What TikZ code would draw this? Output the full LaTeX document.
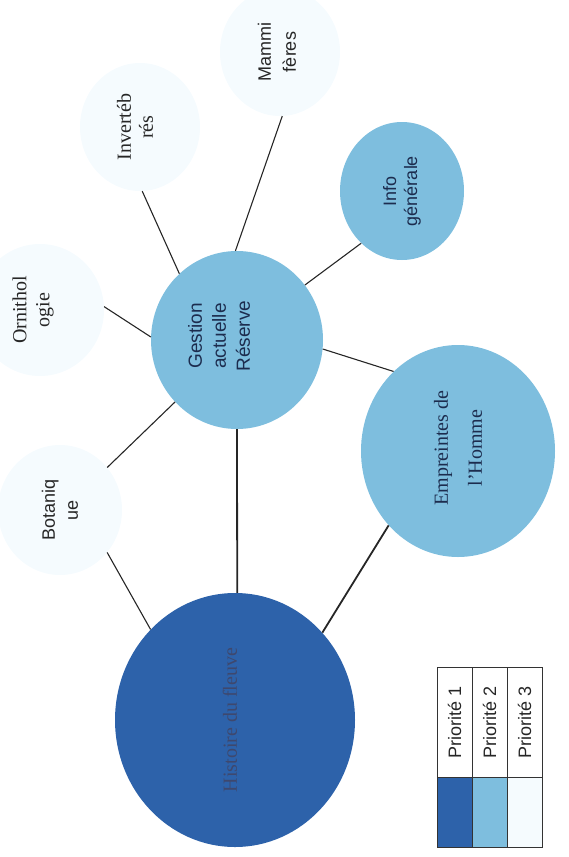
\documentclass[tikz,border=0pt]{standalone}
\usepackage{fontspec}
\setmainfont{Liberation Serif}
\setsansfont{Liberation Sans}
\usetikzlibrary{shapes.geometric}
\definecolor{prioA}{RGB}{45,98,170}
\definecolor{prioB}{RGB}{126,190,222}
\definecolor{prioC}{RGB}{245,251,254}
\definecolor{inkblue}{RGB}{28,44,78}
\definecolor{histink}{RGB}{62,72,110}
\tikzset{
  p1node/.style={ellipse, inner sep=0pt, fill=prioA},
  p2node/.style={ellipse, inner sep=0pt, fill=prioB},
  p3node/.style={ellipse, inner sep=0pt, fill=prioC},
  lien/.style={line width=1.1pt, black!85},
  lienfort/.style={line width=1.8pt, black!85},
  txt/.style={rotate=90, align=center, inner sep=0pt},
  serifbig/.style={font=\rmfamily\fontsize{20}{23}\selectfont},
  sansbig/.style={font=\sffamily\fontsize{18}{23}\selectfont},
  legcell/.style={draw=black!80, line width=0.8pt, inner sep=0pt}
}
\begin{document}
\begin{tikzpicture}[x=1pt,y=-1pt]
\useasboundingbox (0,0) rectangle (568,857);
% cercles
\node[p1node, minimum width=240pt, minimum height=254pt] (hist) at (235,720) {};
\node[p2node, minimum width=172pt, minimum height=178pt] (gest) at (237,340) {};
\node[p2node, minimum width=124pt, minimum height=138pt] (info) at (402,191) {};
\node[p2node, minimum width=194pt, minimum height=212pt] (empr) at (458,451) {};
\node[p3node, minimum width=124pt, minimum height=130pt] (bota) at (60,510) {};
\node[p3node, minimum width=128pt, minimum height=132pt] (orni) at (40,310) {};
\node[p3node, minimum width=120pt, minimum height=128pt] (inve) at (140,127) {};
\node[p3node, minimum width=120pt, minimum height=128pt] (mamm) at (280,52) {};
% liens
\draw[lienfort] (hist.89) -- (gest.270);
\draw[lienfort] (hist.45) -- (empr.227);
\draw[lien] (hist.133) -- (bota.318);
\draw[lien] (gest.225) -- (bota.42);
\draw[lien] (gest.178) -- (orni.3);
\draw[lien] (gest.131) -- (inve.272);
\draw[lien] (gest.91) -- (mamm.272);
\draw[lien] (gest.39) -- (info.232);
\draw[lien] (gest.354) -- (empr.129);
% textes
\node[txt, serifbig, text=histink] (hist-t) at ([xshift=-5pt]hist.center) {Histoire du fleuve};
\node[txt, sansbig, text=inkblue, font=\sffamily\fontsize{19}{24}\selectfont] (gest-t) at ([xshift=-18pt,yshift=4pt]gest.center) {Gestion\\actuelle\\Réserve};
\node[txt, sansbig, text=inkblue, font=\sffamily\fontsize{18}{21}\selectfont] (info-t) at (info) {Info\\générale};
\node[txt, serifbig, text=inkblue, font=\rmfamily\fontsize{20}{34}\selectfont] (empr-t) at ([yshift=3pt]empr.center) {Empreintes de\\l'Homme};
\node[txt, sansbig, text=black!85] (bota-t) at (bota) {Botaniq\\ue};
\node[txt, serifbig, text=black!85] (orni-t) at ([xshift=-7pt]orni.center) {Ornithol\\ogie};
\node[txt, serifbig, text=black!85, font=\rmfamily\fontsize{20}{22}\selectfont] (inve-t) at ([xshift=-5pt]inve.center) {Invertéb\\rés};
\node[txt, sansbig, text=black!85, font=\sffamily\fontsize{18}{25}\selectfont] (mamm-t) at ([xshift=-3pt]mamm.center) {Mammi\\fères};
% legende
\foreach \i/\c in {1/prioA,2/prioB,3/prioC}{
  \node[legcell, rotate=90, minimum width=110pt, minimum height=35pt, sansbig, text=black!85] (leg-\i) at (419.5+35*\i,722) {Priorité \i};
  \node[legcell, minimum width=35pt, minimum height=70pt, fill=\c] (sw-\i) at (419.5+35*\i,812) {};
}
\end{tikzpicture}
\end{document}
